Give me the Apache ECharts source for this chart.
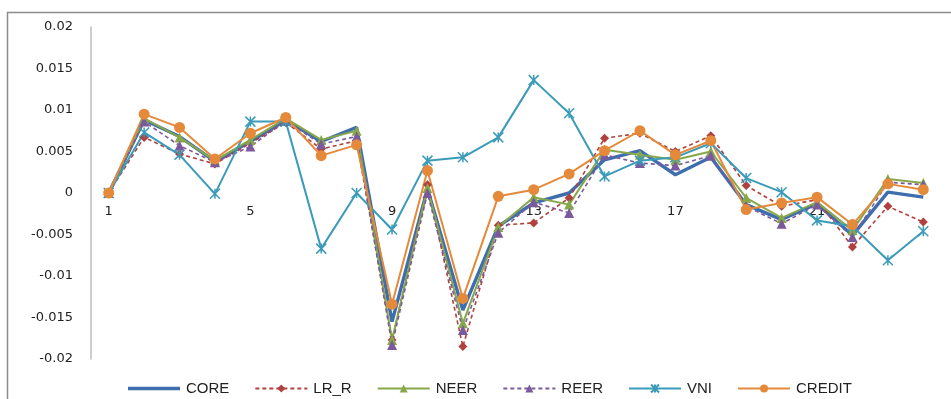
<!DOCTYPE html>
<html><head><meta charset="utf-8">
<script src="https://cdn.jsdelivr.net/npm/echarts@6/dist/echarts.min.js"></script>
<style>html,body{margin:0;padding:0;background:#fff}#c{width:951px;height:399px}</style>
</head><body><div id="c"></div>
<script>
const categories = ['1','2','3','4','5','6','7','8','9','10','11','12','13','14','15','16','17','18','19','20','21','22','23','24'];
const CORE   = [0, 0.0088, 0.0068, 0.0038, 0.0062, 0.0088, 0.0062, 0.0079, -0.0155, 0.0005, -0.0141, -0.0040, -0.0012, 0.0000, 0.0040, 0.0051, 0.0022, 0.0043, -0.0014, -0.0032, -0.0013, -0.0051, 0.0001, -0.0005];
const LR_R   = [0, 0.0067, 0.0047, 0.0035, 0.0060, 0.0085, 0.0053, 0.0063, -0.0177, 0.0010, -0.0185, -0.0039, -0.0036, -0.0006, 0.0066, 0.0072, 0.0050, 0.0069, 0.0009, -0.0016, -0.0008, -0.0065, -0.0016, -0.0035];
const NEER   = [0, 0.0090, 0.0067, 0.0039, 0.0064, 0.0090, 0.0064, 0.0075, -0.0177, 0.0006, -0.0157, -0.0041, -0.0005, -0.0014, 0.0052, 0.0046, 0.0040, 0.0050, -0.0006, -0.0030, -0.0011, -0.0045, 0.0017, 0.0012];
const REER   = [0, 0.0086, 0.0057, 0.0037, 0.0056, 0.0087, 0.0059, 0.0068, -0.0183, 0.0000, -0.0165, -0.0048, -0.0011, -0.0024, 0.0046, 0.0036, 0.0033, 0.0045, -0.0016, -0.0037, -0.0014, -0.0053, 0.0013, 0.0010];
const VNI    = [0, 0.0073, 0.0046, -0.0001, 0.0086, 0.0086, -0.0067, 0.0000, -0.0044, 0.0039, 0.0043, 0.0067, 0.0136, 0.0096, 0.0020, 0.0039, 0.0043, 0.0060, 0.0018, 0.0001, -0.0033, -0.0040, -0.0081, -0.0046];
const CREDIT = [0, 0.0095, 0.0079, 0.0041, 0.0072, 0.0091, 0.0045, 0.0058, -0.0134, 0.0027, -0.0127, -0.0004, 0.0004, 0.0023, 0.0051, 0.0075, 0.0046, 0.0063, -0.0020, -0.0012, -0.0005, -0.0038, 0.0011, 0.0004];
const yTicks = ['-0.02','-0.015','-0.01','-0.005','0','0.005','0.01','0.015','0.02'];

const starPath = 'path://M0,0L10,10M10,0L0,10M5,0L5,10';
function mk(name, data, color, opts) {
  return Object.assign({
    name, type: 'line', data, color,
    lineStyle: { color, width: 2 },
    itemStyle: { color },
    symbolSize: 8, showSymbol: true, animation: false,
    emphasis: { disabled: true }
  }, opts || {});
}
const series = [
  mk('CORE', CORE, '#3F6EAE', { symbol: 'none', lineStyle: { color: '#3F6EAE', width: 3.4 } }),
  mk('LR_R', LR_R, '#B0413E', { symbol: 'diamond', symbolSize: 9, lineStyle: { color: '#B0413E', width: 1.6, type: [4, 3] } }),
  mk('NEER', NEER, '#87A84A', { symbol: 'triangle', symbolSize: 10 }),
  mk('REER', REER, '#7A5A9C', { symbol: 'triangle', symbolSize: 10, lineStyle: { color: '#7A5A9C', width: 1.6, type: [4, 3] } }),
  mk('VNI', VNI, '#3B9BB8', { symbol: starPath, symbolSize: 10, itemStyle: { color: '#3B9BB8', borderColor: '#3B9BB8', borderWidth: 1.5 } }),
  mk('CREDIT', CREDIT, '#E58A3A', { symbol: 'circle', symbolSize: 11 })
];

const legendData = series.map(s => s.name === 'CORE'
  ? { name: 'CORE', icon: 'path://M0,0L52,0L52,3.4L0,3.4Z', itemStyle: { color: '#3F6EAE' } }
  : { name: s.name });

const chart = echarts.init(document.getElementById('c'), null, { renderer: 'canvas' });
chart.setOption({
  animation: false,
  backgroundColor: '#fff',
  graphic: [{ type: 'rect', shape: { x: 7.5, y: 12.5, width: 1000, height: 400 }, style: { fill: 'none', stroke: '#8c8c8c', lineWidth: 1.5 }, z: -1 }],
  grid: { left: 91, right: 10, top: 27, bottom: 40 },
  legend: {
    top: 376, left: 123, itemWidth: 52, itemHeight: 10, itemGap: 25,
    textStyle: { fontFamily: 'Liberation Sans', fontSize: 15, color: '#222', padding: [0, 0, 0, 1] },
    data: legendData
  },
  xAxis: {
    type: 'category', data: categories, boundaryGap: true,
    offset: -166,
    axisLine: { show: false, onZero: false },
    axisTick: { show: false },
    axisLabel: { interval: 3, margin: 12, fontFamily: 'DejaVu Sans', fontSize: 13, color: '#222' },
    splitLine: { show: false }
  },
  yAxis: {
    type: 'value', min: -0.02, max: 0.02, interval: 0.005,
    axisLine: { show: true, lineStyle: { color: '#bdbdbd', width: 1.5 } },
    axisTick: { show: false },
    splitLine: { show: false },
    axisLabel: { margin: 18, fontFamily: 'DejaVu Sans', fontSize: 13, color: '#222',
      formatter: v => { const i = Math.round((v + 0.02) / 0.005); return yTicks[i]; } }
  },
  series
});
</script></body></html>
